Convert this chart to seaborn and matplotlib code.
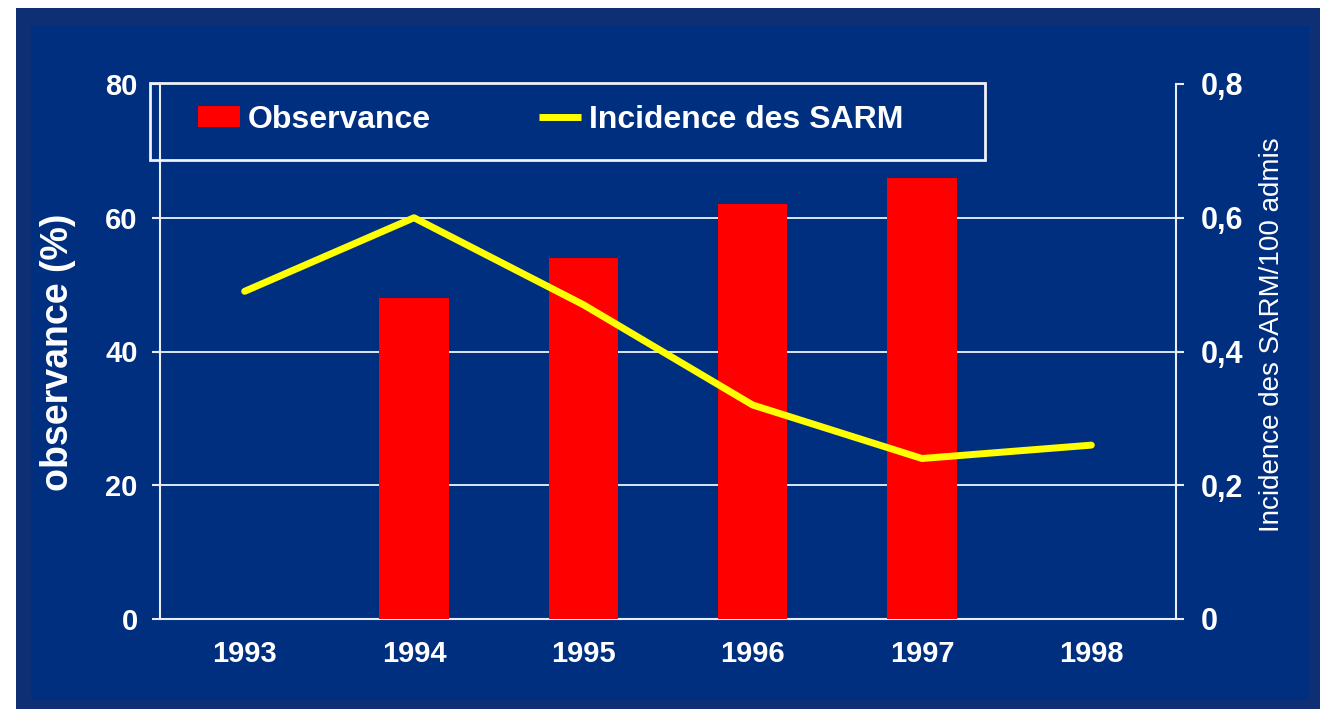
import numpy as np
import pandas as pd
import seaborn as sns
import matplotlib
matplotlib.use("Agg")
import matplotlib.pyplot as plt
from matplotlib.patches import Rectangle, Patch
from matplotlib.lines import Line2D
from matplotlib import font_manager as fm

# ---- data ----
years = ["1993", "1994", "1995", "1996", "1997", "1998"]
observance = [np.nan, 48, 54, 62, 66, np.nan]          # %
incidence = [0.49, 0.60, 0.47, 0.32, 0.24, 0.26]       # SARM / 100 admis
left_ticks = [0, 20, 40, 60, 80]
right_ticks = [0, 0.2, 0.4, 0.6, 0.8]
right_labels = ["0", "0,2", "0,4", "0,6", "0,8"]

sns.set_theme(style="white")
plt.rcParams['font.family'] = ['Liberation Sans', 'DejaVu Sans']

W, H = 1320, 709
fig = plt.figure(figsize=(W / 100, H / 100), dpi=100, facecolor='white')


def fx(px):
    return px / W


def fy(py):
    return 1 - py / H


fig.patches.append(Rectangle((fx(16), 0), 1 - fx(16), fy(8), transform=fig.transFigure,
                             facecolor='#0e2f74', edgecolor='none', zorder=-10))
fig.patches.append(Rectangle((fx(31), fy(700)), fx(1309) - fx(31), fy(26) - fy(700),
                             transform=fig.transFigure, facecolor='#002f7f',
                             edgecolor='none', zorder=-9))

ax = fig.add_axes([fx(160), fy(619), fx(1176) - fx(160), fy(84) - fy(619)])
ax.set_facecolor('none')

df = pd.DataFrame({'year': years, 'obs': observance}).dropna()
sns.barplot(data=df, x='year', y='obs', order=years, color='#ff0000', saturation=1,
            width=0.41, errorbar=None, linewidth=0, edgecolor='none', ax=ax, zorder=3)

ax.set_xlim(-0.5, 5.5)
ax.set_ylim(0, 80)
ax.set_yticks(left_ticks, labels=[str(v) for v in left_ticks], fontsize=21,
              fontweight='bold', color='white')
ax.set_xticks(np.arange(-0.5, 6.0, 1.0), labels=[])
ax.set_xticks(np.arange(len(years)), labels=years, minor=True, fontsize=21,
              fontweight='bold', color='white')
ax.tick_params(axis='x', which='major', direction='out', length=6, width=1.5,
               color='#e8eef8')
ax.tick_params(axis='x', which='minor', length=0, pad=15)
ax.tick_params(axis='y', direction='out', length=6, width=1.5, color='#e8eef8',
               pad=10, left=True)
ax.set_xlabel('')
ax.set_ylabel('observance (%)', fontsize=27, fontweight='bold', color='white')
ax.yaxis.set_label_coords((76 - 160) / 1016, 0.499)

ax.yaxis.grid(True, color='#dde6f2', linewidth=1.4, zorder=1)
ax.xaxis.grid(False)
ax.set_axisbelow(True)
ax.get_ygridlines()[-1].set_visible(False)
for side in ['left', 'bottom', 'right']:
    ax.spines[side].set_visible(True)
    ax.spines[side].set_color('#e8eef8')
    ax.spines[side].set_linewidth(1.5)
ax.spines['top'].set_visible(False)

ax2 = ax.twinx()
sns.lineplot(x=np.arange(len(years)), y=incidence, ax=ax2, color='#ffff00',
             linewidth=5, zorder=5)
ax2.set_ylim(0, 0.8)
ax2.set_xlim(-0.5, 5.5)
ax2.set_yticks(right_ticks, labels=right_labels, fontsize=22, fontweight='bold',
               color='white')
ax2.tick_params(axis='y', direction='out', length=6, width=1.5, color='#e8eef8',
                pad=12, right=True)
ax2.grid(False)
for s in ax2.spines.values():
    s.set_visible(False)
ax2.set_ylabel('Incidence des SARM/100 admis', fontsize=20, color='white')
ax2.yaxis.set_label_coords((1259 - 160) / 1016, 0.532)

# legend box + legend
fig.patches.append(Rectangle((fx(150), fy(160)), fx(985) - fx(150), fy(83) - fy(160),
                             transform=fig.transFigure, fill=False,
                             edgecolor='#eef2fa', linewidth=2, zorder=6))
handles = [Patch(facecolor='#ff0000', edgecolor='none', label='Observance'),
           Line2D([], [], color='#ffff00', linewidth=5, solid_capstyle='butt',
                  label='Incidence des SARM')]
fs = 23
px = fs * 100 / 72
fig.legend(handles=handles, loc='center left', bbox_to_anchor=(fx(198), fy(120)),
           frameon=False, ncol=2,
           prop=fm.FontProperties(family='Liberation Sans', weight='bold', size=fs),
           labelcolor='white', handlelength=42 / px,
           handleheight=0.65, handletextpad=8 / px,
           columnspacing=108 / px, borderpad=0, borderaxespad=0)

fig.savefig('out.png', dpi=100, facecolor='white')
